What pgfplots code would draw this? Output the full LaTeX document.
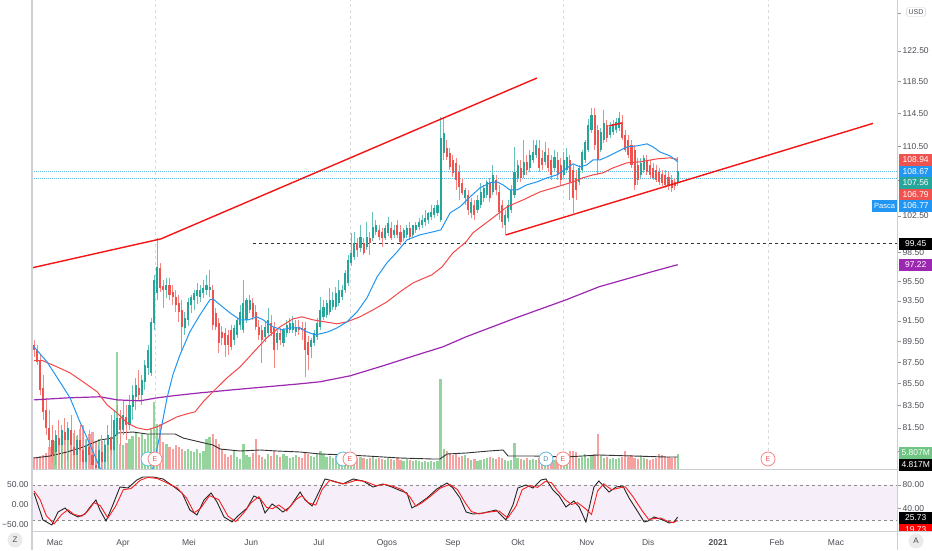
\documentclass[border=0pt]{standalone}
\usepackage{pgfplots}
\pgfplotsset{compat=1.18}
\usepackage{pgfplotstable}
\usepackage{fontspec}
\setmainfont{Liberation Sans}
\definecolor{up}{RGB}{38,166,154}
\definecolor{dn}{RGB}{239,83,80}
\definecolor{upw}{RGB}{105,194,186}
\definecolor{dnw}{RGB}{245,135,132}
\definecolor{vup}{RGB}{150,212,158}
\definecolor{vdn}{RGB}{247,160,160}
\definecolor{ema}{RGB}{33,150,243}
\definecolor{sma}{RGB}{244,72,72}
\definecolor{ma2}{RGB}{156,39,176}
\definecolor{trend}{RGB}{245,20,20}
\definecolor{axgray}{RGB}{205,207,212}
\definecolor{txt}{RGB}{75,78,85}
\definecolor{band}{RGB}{246,239,249}
\definecolor{pline}{RGB}{90,185,220}
\definecolor{volg}{RGB}{110,196,130}
\definecolor{oscred}{RGB}{250,30,30}
\newcommand\lab{\fontsize{8.5}{10}\selectfont}

\pgfplotstableread{
i o h l c v
0 89.15 89.63 88.00 88.67 4.8
1 88.67 89.15 87.24 87.53 4.8
2 87.72 88.19 84.46 84.92 5.2
3 85.10 86.31 82.21 82.92 5.6
4 83.10 84.18 80.89 81.50 6.4
5 81.50 83.10 79.59 80.45 8.8
6 80.45 81.76 78.56 79.16 10
7 79.42 81.32 78.30 80.89 11.2
8 80.62 82.21 79.16 80.02 12
9 80.02 81.76 78.05 81.32 12.8
10 81.15 82.39 80.02 80.45 14
11 80.45 82.03 78.73 81.50 12
12 81.32 82.65 79.59 80.02 15.2
13 79.85 81.32 78.05 79.16 14.4
14 79.16 80.89 77.88 80.45 13.2
15 80.45 81.76 78.56 79.59 16
16 79.59 81.32 77.88 78.56 17.6
17 78.56 80.45 77.88 80.02 12
18 79.85 81.32 78.30 79.16 14
19 79.16 80.45 77.88 78.30 14.8
20 78.30 79.59 77.88 78.05 11.2
21 78.05 80.02 77.88 79.59 12
22 79.42 80.89 77.88 78.56 11.2
23 78.56 80.45 77.88 80.02 10
24 80.02 81.76 78.56 80.89 12.8
25 80.71 82.65 79.16 79.59 10.8
26 79.59 83.10 77.88 82.21 14
27 80.89 83.55 80.02 82.39 46.8
28 82.39 83.10 80.02 81.32 10
29 81.32 84.00 80.89 82.65 9.6
30 82.48 83.55 80.45 81.76 10.4
31 81.76 84.46 81.32 83.55 12
32 83.37 85.38 82.21 84.46 13.2
33 84.28 86.03 83.10 85.38 14.8
34 85.10 86.77 84.00 84.46 12.8
35 84.46 86.31 83.55 85.84 14
36 85.66 87.72 84.92 87.24 12
37 86.96 89.15 86.31 88.67 14
38 86.49 91.79 86.21 91.39 16
39 91.30 96.16 90.61 95.64 26.8
40 94.30 100.09 93.59 96.99 18
41 96.89 97.42 94.40 94.82 18
42 95.02 95.64 92.79 94.61 10.8
43 94.61 95.85 93.79 95.12 10
44 95.12 95.85 93.59 94.10 8.8
45 94.40 95.12 93.09 93.90 8
46 93.90 94.61 92.39 93.09 9.6
47 93.29 94.10 91.39 92.39 8.8
48 92.59 93.59 88.67 90.90 8
49 90.80 92.39 90.12 91.79 7.2
50 91.59 93.79 91.00 93.39 8
51 93.09 94.10 92.29 93.90 7.2
52 93.59 94.61 92.59 94.30 6.8
53 94.00 95.33 93.19 94.61 8
54 93.90 95.12 93.39 94.61 6.4
55 94.30 95.64 93.79 94.82 7.2
56 94.61 96.16 94.10 95.12 12
57 94.61 96.68 93.90 94.92 12.8
58 94.61 95.12 90.61 91.10 14
59 92.29 92.79 90.61 90.90 12
60 91.29 91.79 88.38 89.34 10
61 90.41 91.00 89.15 89.83 8
62 90.31 90.80 88.00 89.15 6
63 90.12 90.61 88.19 89.15 4.8
64 90.61 91.10 88.67 88.96 5.6
65 89.63 91.10 89.15 90.80 7.2
66 90.12 91.79 89.83 91.59 4.8
67 91.10 93.09 90.61 92.39 4
68 90.61 95.64 90.31 93.29 10
69 91.59 93.79 91.29 93.59 5.6
70 92.59 94.10 92.29 93.59 4.8
71 93.29 93.79 91.59 91.89 6.4
72 92.39 93.09 90.61 90.90 12
73 90.90 91.59 89.63 90.12 5.6
74 90.61 91.10 87.43 89.63 4.8
75 89.93 91.39 89.44 90.90 4
76 90.31 92.79 90.02 91.59 6
77 91.29 92.09 90.02 90.31 5.2
78 90.90 91.39 86.96 88.67 7.2
79 89.34 90.61 88.67 90.31 5.6
80 90.31 90.80 89.15 89.63 4.8
81 89.34 90.80 88.96 90.61 6
82 90.31 91.59 89.93 91.10 5.2
83 90.61 91.79 90.31 91.29 4.4
84 90.61 91.99 90.31 91.29 4.8
85 90.41 91.59 90.02 90.90 5.6
86 90.90 91.59 90.12 90.61 4.8
87 90.80 91.39 89.63 90.61 4.4
88 90.80 91.39 86.12 88.67 6.4
89 89.44 90.02 86.77 88.19 6
90 88.96 89.83 87.91 89.63 5.2
91 89.34 90.61 89.05 90.31 4.8
92 89.93 91.79 89.63 91.29 6
93 90.90 93.90 90.61 92.59 7.2
94 91.89 93.59 91.59 92.89 5.6
95 92.09 93.59 91.79 93.29 4.8
96 92.39 94.82 92.09 93.59 5.2
97 92.89 94.40 92.59 93.59 4.4
98 92.89 94.92 92.59 94.30 5.2
99 93.29 95.64 92.99 94.61 4.4
100 93.90 95.12 93.59 94.61 4
101 94.61 96.68 94.30 96.37 5.2
102 95.33 98.26 95.02 97.73 4.8
103 97.42 100.63 97.10 98.47 6
104 98.05 100.73 97.73 99.54 5.6
105 99.54 100.09 98.05 98.79 4.4
106 99.01 101.50 98.58 100.19 4.8
107 99.54 100.09 98.26 98.47 4.4
108 99.12 101.83 98.79 100.19 4
109 100.09 100.73 98.26 99.54 4.4
110 100.09 102.94 99.76 101.28 5.2
111 100.73 102.05 100.41 101.50 4
112 100.95 101.50 99.87 100.19 4.4
113 100.73 101.17 99.12 100.09 4
114 100.09 101.50 99.87 101.17 3.6
115 100.63 102.38 100.30 101.72 4.4
116 101.17 101.83 99.87 100.09 4
117 100.41 101.50 100.09 100.95 3.6
118 101.50 102.05 100.09 100.41 4.4
119 100.73 101.50 99.33 99.65 3.6
120 100.09 101.17 99.76 100.95 3.2
121 100.41 101.50 100.09 101.17 4
122 101.17 101.83 99.87 100.19 3.6
123 100.41 101.50 100.09 101.50 3.2
124 100.95 101.83 100.63 101.50 3.6
125 101.28 102.27 100.95 101.83 3.2
126 101.50 102.60 101.17 102.05 2.8
127 101.83 103.16 101.39 102.27 3.2
128 102.05 102.94 101.61 102.83 2.8
129 102.38 103.72 102.05 102.94 3.2
130 102.60 103.72 102.27 103.39 2.8
131 102.83 104.28 102.49 103.72 3.2
132 102.05 114.07 101.83 111.51 36
133 109.72 114.07 108.89 112.12 8
134 110.31 111.27 108.89 109.24 7.2
135 109.72 110.31 107.72 108.07 6.4
136 108.89 109.48 106.91 107.37 5.6
137 108.54 109.13 105.41 106.56 6
138 107.49 108.30 104.28 105.76 4.8
139 106.22 106.79 104.85 105.07 5.2
140 104.51 105.64 103.72 105.41 5.6
141 104.85 105.41 102.60 103.16 4.4
142 102.83 104.51 102.27 104.06 3.6
143 103.72 104.28 102.05 102.60 4
144 103.16 104.85 102.83 104.28 3.2
145 103.72 106.22 103.39 105.19 3.6
146 104.51 105.99 104.06 105.64 4
147 104.85 106.56 104.51 106.33 4.4
148 106.33 106.79 104.06 104.51 4.8
149 105.19 108.30 104.85 107.14 4.4
150 106.56 107.14 104.85 105.41 4
151 105.19 105.99 102.05 102.94 4.8
152 103.72 104.28 101.17 101.83 4.4
153 101.50 103.16 100.41 102.60 3.6
154 102.27 104.28 101.83 103.72 3.2
155 103.16 105.99 102.83 105.41 3.6
156 104.85 110.43 104.51 107.49 10.4
157 106.79 108.89 106.33 108.30 4.4
158 107.95 108.89 106.33 106.79 4
159 107.14 111.27 106.79 108.66 3.6
160 108.66 109.48 107.14 107.72 4.4
161 107.95 110.07 107.49 109.48 3.6
162 108.89 111.27 108.54 109.83 4
163 109.48 111.27 109.13 110.67 3.6
164 110.31 111.27 107.49 107.95 4.4
165 109.13 110.07 107.72 108.30 4.4
166 108.66 111.03 108.30 109.83 4
167 109.48 110.31 107.49 107.95 4.8
168 108.89 109.48 106.56 107.14 4.4
169 107.95 110.07 107.49 109.24 3.6
170 108.89 109.83 106.56 107.14 4
171 108.30 109.13 105.99 106.56 4.4
172 107.14 109.83 106.79 108.89 4
173 107.72 110.31 107.37 109.24 3.6
174 108.89 109.48 104.28 106.33 7.2
175 107.72 108.30 102.83 104.51 7.2
176 106.79 107.72 104.28 105.41 6.8
177 106.33 108.30 105.99 107.95 4.4
178 107.72 110.07 107.37 109.83 4.8
179 108.89 111.27 108.54 111.03 6
180 110.07 113.82 109.83 113.09 4.4
181 112.48 115.19 112.12 114.32 5.2
182 114.32 115.19 110.07 110.67 6
183 112.48 113.09 107.14 108.89 14
184 110.07 112.72 109.83 112.24 5.2
185 111.27 114.94 110.91 113.33 4.4
186 113.09 113.70 111.03 111.51 4.8
187 111.87 113.45 111.51 112.85 4
188 112.24 113.70 111.87 113.21 4.4
189 112.48 113.94 112.12 113.45 4
190 112.72 114.69 112.36 113.94 4.4
191 113.45 114.32 111.27 111.51 4.8
192 111.87 112.48 109.83 110.07 7.2
193 111.27 111.87 109.13 109.48 4.8
194 110.67 111.27 107.95 108.30 5.6
195 110.07 110.67 105.41 105.99 4.4
196 108.30 109.13 105.99 106.56 4
197 107.14 109.13 106.79 108.54 5.6
198 107.72 109.48 107.37 109.13 4.4
199 108.89 109.48 107.14 107.49 4
200 108.30 108.89 106.79 107.14 3.6
201 107.95 108.54 106.56 106.79 4
202 107.72 108.30 106.33 106.56 4.4
203 107.49 107.95 105.99 106.33 6
204 107.26 107.72 105.87 106.22 5.6
205 107.14 107.72 105.64 105.99 5.2
206 106.91 107.49 105.41 105.99 4.8
207 106.56 107.14 105.19 105.64 4.4
208 106.33 106.79 105.41 105.87 4.8
209 106.22 109.24 105.87 107.56 5.807
}\ohlc

\begin{document}
\begin{tikzpicture}
\useasboundingbox (0,0) rectangle (932pt,550pt);
\fill[white] (0,0) rectangle (932pt,550pt);

% ---------- volume pane (behind price) ----------
\begin{axis}[at={(32pt,81pt)}, anchor=south west, scale only axis,
  width=865pt, height=469pt, xmin=-0.65, xmax=280.2, ymin=0, ymax=187.6,
  hide axis]
\pgfplotsforeachungrouped \k in {0,...,209}{%
  \pgfplotstablegetelem{\k}{o}\of\ohlc \let\vO\pgfplotsretval
  \pgfplotstablegetelem{\k}{c}\of\ohlc \let\vC\pgfplotsretval
  \pgfplotstablegetelem{\k}{v}\of\ohlc \let\vV\pgfplotsretval
  \pgfmathtruncatemacro\isdn{\vC<\vO}%
  \ifnum\isdn=1 \def\cv{vdn}\else\def\cv{vup}\fi
  \edef\doit{\noexpand\addplot[\cv, line width=2.2pt] coordinates {(\k,0) (\k,\vV)};}%
  \doit
}
\addplot[black!80, line width=0.9pt] coordinates {(0,4.4) (5.2,5.2) (10.7,6.8) (15.9,8.8) (21.4,11.6) (25.6,12.4) (27.3,14.4) (32.1,14.8) (36.7,14) (40.9,14) (45.8,14) (48.4,12.4) (53.9,10.8) (58.1,9.6) (60.4,8) (66.9,7.2) (73.4,7.6) (78.9,7.2) (86.4,6.8) (92.9,6) (101.6,5.6) (108.1,5.2) (118.8,4.4) (129.5,4) (131.8,4) (134.1,6) (140.3,6.4) (147.7,7.2) (152.3,7.6) (153.9,5.2) (162,5.2) (172.7,4.8) (183.4,5.6) (194.5,5.2) (205.2,4.8) (209,4.817)};
\end{axis}

% ---------- price pane ----------
\begin{axis}[at={(32pt,81pt)}, anchor=south west, scale only axis,
  width=865pt, height=469pt, xmin=-0.65, xmax=280.2,
  ymode=log, ymin=77.96, ymax=129.45,
  axis line style={draw=none}, xtick=\empty,
  ytick={79.5,81.5,83.5,85.5,87.5,89.5,91.5,93.5,95.5,98.5,102.5,106.5,110.5,114.5,118.5,122.5,127.6},
  yticklabels={79.50,81.50,83.50,85.50,87.50,89.50,91.50,93.50,95.50,98.50,102.50,{},110.50,114.50,118.50,122.50,{}},
  yminorticks=false,
  ytick pos=right, yticklabel pos=right,
  yticklabel style={font=\lab, text=txt, inner sep=0pt, xshift=2pt},
  tick style={draw=txt!60, line width=0.5pt}, major tick length=3.5pt, tick align=outside]
% earnings lines
\addplot[black!15, dash pattern=on 3pt off 3pt, line width=0.6pt] coordinates {(39.3,79.5) (39.3,129.45)};
\addplot[black!15, dash pattern=on 3pt off 3pt, line width=0.6pt] coordinates {(102.6,79.5) (102.6,129.45)};
\addplot[black!15, dash pattern=on 3pt off 3pt, line width=0.6pt] coordinates {(171.8,79.5) (171.8,129.45)};
\addplot[black!15, dash pattern=on 3pt off 3pt, line width=0.6pt] coordinates {(238.3,79.5) (238.3,129.45)};
% price lines
\addplot[pline, dash pattern=on 1pt off 1pt, line width=0.5pt] coordinates {(-0.65,107.56) (280.2,107.56)};
\addplot[pline, dash pattern=on 1pt off 1pt, line width=0.5pt] coordinates {(-0.65,106.79) (280.2,106.79)};
\addplot[black!80, dash pattern=on 3.5pt off 2.5pt, line width=0.7pt] coordinates {(71.1,99.45) (280.2,99.45)};
% candles
\pgfplotsforeachungrouped \k in {0,...,209}{%
  \pgfplotstablegetelem{\k}{o}\of\ohlc \let\vO\pgfplotsretval
  \pgfplotstablegetelem{\k}{h}\of\ohlc \let\vH\pgfplotsretval
  \pgfplotstablegetelem{\k}{l}\of\ohlc \let\vL\pgfplotsretval
  \pgfplotstablegetelem{\k}{c}\of\ohlc \let\vC\pgfplotsretval
  \pgfmathtruncatemacro\isdn{\vC<\vO}%
  \ifnum\isdn=1 \def\cb{dn}\def\cw{dnw}\else\def\cb{up}\def\cw{upw}\fi
  \edef\doit{%
    \noexpand\addplot[\cw, line width=0.9pt] coordinates {(\k,\vL) (\k,\vH)};
    \noexpand\addplot[\cb, line width=2.1pt] coordinates {(\k,\vO) (\k,\vC)};}%
  \doit
}
% moving averages
\addplot[ma2, line width=1.2pt] coordinates {(0,84.00) (10.7,84.18) (21.4,84.28) (27,84.00) (34.4,83.91) (39.9,84.18) (45.1,84.37) (53.9,84.64) (64.6,84.92) (75.6,85.20) (86.4,85.47) (92.9,85.66) (102.6,86.21) (113.3,87.15) (124.4,88.19) (132.8,88.96) (140.3,89.93) (156.5,91.79) (172.7,93.59) (183.4,94.92) (199.7,96.40) (209,97.22)};
\addplot[sma, line width=1pt] coordinates {(0,87.63) (2.9,87.63) (7.5,87.05) (11.7,86.49) (15.9,85.66) (20.5,84.74) (23.7,83.55) (26.9,82.83) (30.2,81.94) (33.4,81.50) (36.7,81.32) (39.9,81.58) (43.2,82.03) (46.4,82.47) (49.7,82.74) (52.3,82.92) (54.9,83.82) (58.1,84.74) (62.7,86.03) (66.9,87.05) (71.1,88.38) (75.6,89.83) (79.9,90.90) (84.1,91.69) (87,91.89) (90.6,91.59) (94.5,91.39) (98.4,91.20) (101.6,91.39) (105.8,91.89) (110.1,92.59) (114.6,93.39) (118.8,94.40) (123.1,95.33) (127.6,95.95) (129.2,96.16) (132.5,96.99) (136,98.47) (140.3,99.65) (142.5,100.63) (148.1,102.05) (153.6,103.50) (158.8,104.28) (164.3,105.19) (169.8,105.76) (175,106.33) (178.2,106.79) (181.5,107.14) (184.7,107.37) (188,107.95) (192.5,108.54) (196.8,108.66) (202.3,109.01) (206.5,109.13) (209,108.94)};
\addplot[ema, line width=1pt] coordinates {(0,88.96) (4.2,87.53) (8.4,85.66) (11.7,84.18) (14.9,82.03) (18.2,80.02) (21.4,78.05) (25,76.6) (30,75.6) (35,76.2) (38.6,78.05) (40.9,80.89) (43.2,84.18) (45.1,86.31) (47.4,88.19) (50.6,90.41) (53.9,92.09) (57.1,93.59) (58.1,93.69) (60.4,93.09) (63.6,92.29) (66.9,91.59) (69.5,91.59) (72.4,91.89) (74.4,91.59) (77.6,90.90) (80.5,90.61) (83.1,90.80) (86.4,90.80) (88.6,90.41) (91.2,90.12) (92.9,90.22) (95.5,90.41) (98.4,90.80) (101.6,91.39) (104.9,92.39) (108.1,93.79) (111.4,95.95) (114.6,97.42) (117.9,98.58) (121.1,99.87) (125.3,100.41) (129.5,100.73) (132.1,100.95) (135.1,102.83) (138.3,103.50) (141.6,104.62) (144.8,105.64) (148.1,106.22) (150.3,106.33) (152.3,105.99) (154.5,105.41) (156.8,105.41) (160,105.99) (163.3,106.33) (166.6,106.79) (169.8,107.14) (173.1,107.95) (175,108.42) (177.3,108.07) (179.5,108.30) (181.5,108.89) (183.8,108.89) (186,109.24) (189.3,109.83) (192.5,110.43) (195.8,110.55) (199,110.79) (201,110.43) (203.2,109.83) (206.5,109.36) (209,108.67)};
% trend lines
\addplot[trend, line width=1.4pt] coordinates {(-0.65,96.89) (41.2,99.97) (163.3,118.97)};
\addplot[trend, line width=1.4pt] coordinates {(153.2,100.4) (272.4,113.27)};
\addplot[trend, line width=1.4pt] coordinates {(186.6,112.96) (190.6,113.3)};
\end{axis}

% ---------- oscillator pane ----------
\begin{axis}[at={(32pt,19pt)}, anchor=south west, scale only axis,
  width=865pt, height=61pt, xmin=-0.65, xmax=280.2, ymin=2, ymax=105.4,
  axis line style={draw=none},
  xtick={6.8,28.9,50.3,70.5,92.5,114.6,136,157.1,179.5,199.4,222.1,241.2,260.4},
  xticklabels={Mac,Apr,Mei,Jun,Jul,Ogos,Sep,Okt,Nov,Dis,\textbf{2021},Feb,Mac},
  xticklabel style={font=\lab, text=txt, yshift=-1.5pt},
  ytick={40,80}, yticklabels={40.00,80.00},
  ytick pos=right, yticklabel pos=right,
  yticklabel style={font=\lab, text=txt, inner sep=0pt, xshift=2pt},
  xtick style={draw=none}, ytick style={draw=txt!60, line width=0.5pt},
  major tick length=3.5pt, tick align=outside]
\addplot[fill=band, draw=none] coordinates {(-0.65,20) (280.2,20) (280.2,80) (-0.65,80) (-0.65,20)};
\addplot[black!45, dash pattern=on 3pt off 3pt, line width=0.8pt] coordinates {(-0.65,80) (280.2,80)};
\addplot[black!45, dash pattern=on 3pt off 3pt, line width=0.8pt] coordinates {(-0.65,20) (280.2,20)};
\addplot[black!85, line width=0.9pt] coordinates {(0,66.4) (1.3,46.1) (2.9,20.7) (5.8,12.2) (7.8,34.2) (10.1,41.0) (11.7,32.5) (14.3,25.8) (16.6,30.8) (18.2,42.7) (20.1,54.6) (21.4,37.6) (23.4,19.0) (25.6,46.1) (27.9,76.6) (30.5,74.9) (33.4,88.5) (35.4,93.6) (38.6,93.6) (41.9,90.2) (45.1,78.3) (48.1,66.4) (50.6,37.6) (52.9,29.2) (55.2,54.6) (57.5,66.4) (59.4,51.2) (61.7,25.8) (64.3,17.3) (66.2,27.5) (69.2,41.0) (71.4,61.4) (73.4,56.3) (75,32.5) (77.3,47.8) (79.2,41.0) (80.8,34.2) (83.1,42.7) (86.4,68.1) (88,54.6) (90.3,44.4) (92.2,64.7) (94.5,90.2) (97.1,86.8) (100.3,81.7) (103.6,90.2) (106.8,86.8) (110.1,76.6) (113.3,81.7) (116.2,76.6) (118.8,70.8) (121.1,66.4) (122.7,41.0) (124.4,46.1) (127.6,58.0) (130.8,73.2) (134.1,83.4) (136,74.9) (138.3,58.0) (140.3,34.2) (142.5,30.8) (145.8,32.5) (150,37.6) (153.2,20.7) (155.5,46.1) (157.1,74.9) (159.7,80) (162,74.9) (164.6,88.5) (166.2,90.2) (168.5,71.5) (170.5,61.4) (172.7,42.7) (175.3,52.9) (177,42.7) (179.2,17.3) (181.8,76.6) (183.4,86.8) (186.7,68.1) (189,76.6) (191.2,78.3) (193.2,58.0) (196.1,34.2) (198.1,17.3) (199.4,19.0) (201.3,25.8) (204.2,20.7) (206.2,15.6) (207.8,17.3) (209,25.73)};
\addplot[oscred, line width=0.9pt] coordinates {(0,70) (2,55) (4,28) (6.5,14) (9,30) (11,38) (13,30) (15.5,27) (17.5,36) (19.5,50) (21.5,45) (24,24) (26.5,44) (29,72) (31.5,74) (34.5,88) (37,93) (40,91) (43,84) (46.5,75) (49.5,58) (52,33) (54,40) (57,62) (60,55) (63,27) (65.5,18) (68,32) (70.5,50) (73,60) (75.5,42) (77.5,40) (79.5,46) (82,36) (85,55) (87,62) (89,50) (91.5,46) (93.5,72) (96,88) (98.5,84) (101,82) (104.5,88) (107.5,86) (111,79) (114,81) (117,77) (119.5,72) (122,60) (124,44) (126,50) (128.5,60) (132,75) (135,81) (137.5,72) (140,50) (142,35) (144.5,31) (147.5,34) (151,36) (153.8,24) (156.5,44) (158.5,72) (161,79) (163.5,76) (166,86) (168,84) (170,70) (172.5,55) (174.5,47) (176.5,50) (179,40) (181,30) (183,70) (185,82) (187.5,72) (190,75) (192,77) (194.5,60) (197.5,36) (199.5,22) (201.5,23) (203.5,24) (205.5,19) (207.5,16) (209,19.73)};
\end{axis}

% left scale of the oscillator pane
\begin{axis}[at={(32pt,19pt)}, anchor=south west, scale only axis,
  width=865pt, height=61pt, xmin=0, xmax=1, ymin=-65, ymax=87.5,
  axis line style={draw=none}, xtick=\empty,
  ytick={-50,0,50}, yticklabels={−50.00,0.00,50.00},
  ytick pos=left, yticklabel pos=left, ytick style={draw=none},
  yticklabel style={font=\lab, text=txt}]
\end{axis}

% ---------- frame and labels (pixel coordinates) ----------
\begin{scope}[shift={(0pt,550pt)}, x=1pt, y=-1pt]
\draw[axgray, line width=1.3pt] (32,0) -- (32,550);
\draw[axgray, line width=1pt] (897.5,0) -- (897.5,550);
\draw[axgray, line width=1pt] (32,469.5) -- (932,469.5);
\draw[axgray, line width=1pt] (32,531) -- (932,531);

\newcommand\tagbox[4]{\node[fill=#2, text=#3, font=\lab, inner sep=0pt, minimum height=11.5pt, minimum width=33pt, anchor=west] at (899,#1) {#4};}
\tagbox{160}{dn}{white}{108.94}
\tagbox{171.5}{ema}{white}{108.67}
\tagbox{183}{up}{white}{107.56}
\tagbox{194.5}{dn}{white}{106.79}
\tagbox{206}{ema}{white}{106.77}
\node[fill=ema, text=white, font=\fontsize{7.5}{9}\selectfont, inner sep=0pt, minimum height=11.5pt, minimum width=25pt] at (884.5,206) {Pasca};
\tagbox{244}{black}{white}{99.45}
\tagbox{265}{ma2}{white}{97.22}
\tagbox{453}{volg}{white}{5.807M}
\tagbox{465}{black}{white}{4.817M}
\tagbox{518}{black}{white}{25.73}
\begin{scope}
\clip (898,524) rectangle (932,530.5);
\tagbox{530}{red}{white}{19.73}
\end{scope}
\node[draw=axgray, fill=white, text=txt, font=\fontsize{7}{8}\selectfont, rounded corners=1.5pt, inner sep=2pt] at (916,12) {USD};
\node[circle, fill=black!8, text=txt, font=\fontsize{8}{9}\selectfont, minimum size=15pt, inner sep=0pt] at (15,540) {Z};
\node[circle, fill=black!8, text=txt, font=\fontsize{8}{9}\selectfont, minimum size=15pt, inner sep=0pt] at (916,541) {A};

\foreach \ex in {148,343}{\node[circle, draw=pline, fill=white, line width=0.8pt, minimum size=14pt, inner sep=0pt] at (\ex,459) {};}
\node[circle, draw=pline, fill=white, text=pline!80!black, line width=0.8pt, font=\fontsize{7}{8}\selectfont, minimum size=14pt, inner sep=0pt] at (546,459) {D};
\foreach \ex in {155,350,563,768}{\node[circle, draw=dnw, fill=white, text=dn, line width=0.8pt, font=\fontsize{7}{8}\selectfont, minimum size=14pt, inner sep=0pt] at (\ex,459) {E};}
\end{scope}
\end{tikzpicture}
\end{document}
